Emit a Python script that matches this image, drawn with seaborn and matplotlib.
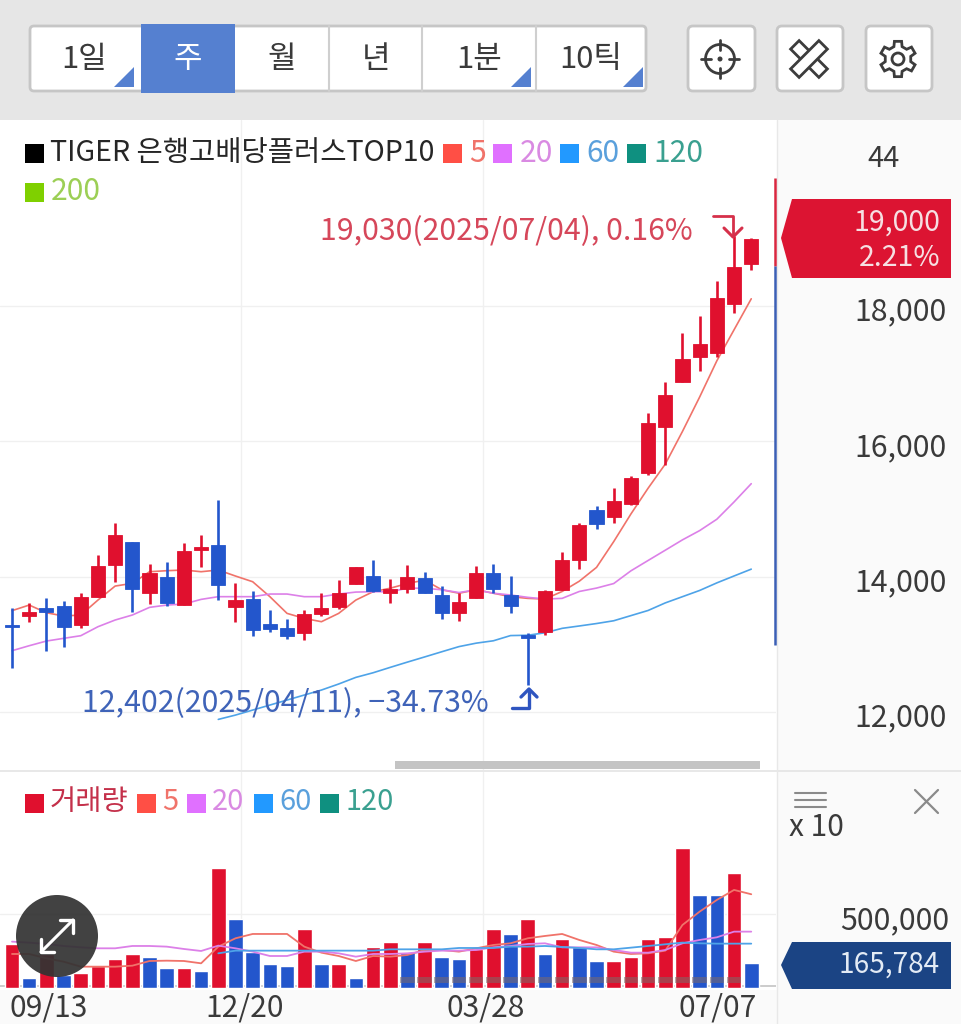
import numpy as np
import pandas as pd
import seaborn as sns
import matplotlib
matplotlib.use('Agg')
import matplotlib.pyplot as plt
from matplotlib.patches import Rectangle, Polygon, Circle, FancyBboxPatch
from matplotlib.transforms import ScaledTranslation

sns.set_style('white')
plt.rcParams['font.family'] = ['Noto Sans CJK KR', 'DejaVu Sans']

# 주봉 시세
body_top = [13285, 13473, 13542, 13567, 13695, 14158, 14611, 14518, 14059, 13995, 14385, 14439,
            14463, 13655, 13670, 13296, 13241, 13453, 13537, 13764, 14138, 14010, 13813, 14000,
            13985, 13725, 13629, 14061, 14061, 13725, 13145, 13782, 14240, 14764, 14988, 15120,
            15456, 16270, 16693, 17217, 17446, 18123, 18571, 18989]
body_bot = [13256, 13419, 13473, 13251, 13291, 13705, 14177, 13818, 13764, 13606, 13581, 14394,
            13877, 13547, 13212, 13227, 13128, 13172, 13443, 13557, 13892, 13788, 13764, 13817,
            13756, 13471, 13461, 13690, 13817, 13563, 13094, 13176, 13807, 14245, 14784, 14876,
            15069, 15532, 16220, 16871, 17248, 17304, 18032, 18622]
highs = [13532, 13606, 13680, 13645, 13754, 14320, 14788, 14518, 14182, 14222, 14503, 14616,
         15133, 13902, 13793, 13507, 13370, 13507, 13754, 13951, 14138, 14246, 13961, 14173,
         14072, 13868, 13756, 14153, 14184, 14011, 13170, 13807, 14367, 14800, 15049, 15308,
         15487, 16413, 16881, 17609, 17848, 18378, 19030, 19009]
lows = [12645, 13335, 12906, 12965, 13246, 13705, 13916, 13483, 13591, 13567, 13581, 14138,
        13655, 13335, 13128, 13182, 13074, 13064, 13424, 13517, 13892, 13778, 13616, 13756,
        13756, 13374, 13349, 13680, 13766, 13471, 12402, 13145, 13797, 14112, 14698, 14800,
        15054, 15507, 15650, 16871, 17039, 17243, 17904, 18530]
candle_up = [0, 1, 0, 0, 1, 1, 1, 0, 1, 0, 1, 1, 0, 1, 0, 0, 0, 1, 1, 1, 1, 0, 1, 1, 0, 0, 1, 1,
             0, 0, 0, 1, 1, 1, 0, 1, 1, 1, 1, 1, 1, 1, 1, 1]

ma5 = [13498, 13581, 13468, 13419, 13434, 13655, 13862, 13902, 14074, 14089, 14099, 14074,
       14099, 14010, 13926, 13705, 13458, 13384, 13335, 13458, 13655, 13778, 13830, 13900,
       13950, 13807, 13756, 13807, 13756, 13705, 13680, 13670, 13782, 13934, 14138, 14519,
       14927, 15308, 15665, 16148, 16657, 17192, 17650, 18108]
ma20 = [12906, 12980, 13049, 13089, 13128, 13261, 13360, 13434, 13547, 13581, 13596, 13665,
        13705, 13705, 13705, 13744, 13744, 13705, 13705, 13744, 13773, 13778, 13778, 13830,
        13830, 13807, 13766, 13807, 13756, 13730, 13695, 13670, 13680, 13782, 13832, 13899,
        14087, 14240, 14392, 14545, 14682, 14850, 15105, 15375]
ma60 = [11891, 11955, 12029, 12103, 12177, 12251, 12325, 12414, 12512, 12580, 12660, 12738,
        12814, 12891, 12967, 13018, 13053, 13130, 13135, 13171, 13237, 13272, 13308, 13349,
        13425, 13501, 13613, 13705, 13797, 13909, 14011, 14112]

price_ticks = [12000, 14000, 16000, 18000]
range_high, range_mid, range_low = 19894, 18593, 12990

# 거래량
volumes = [298000, 63600, 229600, 86400, 97700, 147700, 197700, 229600, 211400, 131800, 131800,
           113600, 818000, 466000, 245500, 163600, 147700, 397800, 163600, 163600, 63600, 279600,
           313700, 245500, 313700, 211400, 197700, 263700, 397800, 363700, 466000, 229600,
           329600, 279600, 179600, 179600, 211400, 329600, 347800, 952400, 631900, 631900,
           784200, 165784]
vol_up = [1, 0, 1, 0, 1, 1, 1, 1, 0, 0, 1, 0, 1, 0, 0, 0, 0, 1, 0, 1, 0, 1, 1, 0, 1, 0, 0, 1,
          1, 0, 1, 0, 1, 0, 0, 1, 1, 1, 1, 1, 0, 0, 1, 0]
vol_ma5 = [229600, 229600, 200000, 177300, 143200, 143200, 143200, 150000, 181800, 184100, 181800,
           166000, 279600, 336400, 365900, 365900, 365900, 279600, 238600, 215900, 181800, 215900,
           211400, 222700, 256800, 256800, 245500, 268200, 291000, 302300, 336400, 352300,
           365900, 325000, 290900, 245500, 229600, 234100, 252300, 427300, 518200, 597700,
           665900, 636400]
vol_ma20 = [313700, 306800, 297700, 284100, 275000, 268200, 268200, 284100, 284100, 279600,
            263700, 250000, 286400, 268200, 245500, 215900, 215900, 245500, 245500, 234100,
            211400, 229600, 229600, 234100, 245500, 252300, 252300, 256800, 275000, 284100,
            297700, 302300, 275000, 275000, 275000, 256800, 238600, 238600, 256800, 302300,
            325000, 343200, 381800, 381800]
vol_ma60 = [234100, 252300, 252300, 252300, 252300, 252300, 252300, 252300, 252300, 252300,
            261400, 261400, 261400, 261400, 270500, 270500, 270500, 279600, 279600, 284100,
            277300, 270500, 261400, 261400, 272700, 284100, 295500, 307000, 302300, 300000,
            300000, 300000]

date_labels = ['09/13', '12/20', '03/28', '07/07']
date_ticks = [2.15, 13.55, 27.57, 41.07]
grid_dates = [13.32, 27.4]

RED = '#e0102e'
BLUE = '#2356cc'
MA_COLORS = {'5': '#f0736a', '20': '#dc80e8', '60': '#4ea3e8'}
W, H = 961, 1024
fs = lambda px: px * 0.72


def box(left, top, right, bottom):
    return [left / W, 1 - bottom / H, (right - left) / W, (bottom - top) / H]


fig = plt.figure(figsize=(9.61, 10.24), dpi=100, facecolor='white')

# 바닥 레이어 (패널 배경)
back = fig.add_axes([0, 0, 1, 1], zorder=0)
back.set_xlim(0, W)
back.set_ylim(H, 0)
back.axis('off')
back.add_patch(Rectangle((0, 0), W, 120, color='#e6e6e6', lw=0))
back.add_patch(Rectangle((777, 120), W - 777, H - 120, color='#fafafa', lw=0))
back.add_patch(Rectangle((0, 990), W, 34, color='#fafafa', lw=0))
back.plot([0, W], [771, 771], color='#e4e4e4', lw=1.2)
back.plot([776.5, 776.5], [120, H], color='#e8e8e8', lw=1)

# 가격 차트
df = pd.DataFrame({'idx': range(44), 'top': body_top, 'bot': body_bot, 'high': highs, 'low': lows,
                   'up': candle_up, 'ma5': ma5, 'ma20': ma20})
df60 = pd.DataFrame({'idx': range(12, 44), 'ma60': ma60})

ax = fig.add_axes(box(0, 120, 776, 770), zorder=1, facecolor='none')
ax.set_xlim(-0.698, 44.44)
ax.set_ylim(11143, 20751)
for d in grid_dates:
    ax.axvline(d, color='#f0f0f0', lw=1, zorder=0)
ax.set_yticks(price_ticks)
ax.set_yticklabels([f'{p:,}' for p in price_ticks], fontsize=fs(30.3), color='#3a3a3a')
ax.yaxis.tick_right()
ax.tick_params(axis='y', length=0, pad=56.6)
ax.grid(axis='y', color='#f0f0f0', lw=1)
ax.set_axisbelow(True)
for lab in ax.get_yticklabels():
    lab.set_transform(lab.get_transform() + ScaledTranslation(0, -2.5 / 100, fig.dpi_scale_trans))
ax.set_xticks([])
sns.despine(ax=ax, left=True, bottom=True, right=True, top=True)

sns.lineplot(data=df, x='idx', y='ma5', color=MA_COLORS['5'], lw=1.2, ax=ax, zorder=2, errorbar=None)
sns.lineplot(data=df, x='idx', y='ma20', color=MA_COLORS['20'], lw=1.2, ax=ax, zorder=2, errorbar=None)
sns.lineplot(data=df60, x='idx', y='ma60', color=MA_COLORS['60'], lw=1.2, ax=ax, zorder=2, errorbar=None)
ax.set_xlabel('')
ax.set_ylabel('')

colors = [RED if u else BLUE for u in candle_up]
ax.vlines(df['idx'], df['low'], df['high'], colors=colors, lw=1.9, zorder=3)
ax.bar(df['idx'], df['top'] - df['bot'], bottom=df['bot'], width=0.82, color=colors, lw=0.6,
       edgecolor=colors, zorder=4)

# 기간 범위 막대
ax.vlines(44.36, range_mid, range_high, color='#d9263f', lw=1.8, clip_on=False, zorder=5)
ax.vlines(44.36, range_low, range_mid, color='#3b5fb5', lw=1.8, clip_on=False, zorder=5)

# 거래량 차트
vf = pd.DataFrame({'idx': range(44), 'vol': volumes,
                   'kind': ['up' if u else 'down' for u in vol_up],
                   'ma5': vol_ma5, 'ma20': vol_ma20})
vf60 = pd.DataFrame({'idx': range(12, 44), 'ma60': vol_ma60})

vx = fig.add_axes(box(0, 772, 776, 990), zorder=1, facecolor='none')
vx.axhline(13000, color='#c4c4c4', lw=1.2, zorder=0)
sns.barplot(data=vf, x='idx', y='vol', hue='kind', palette={'up': RED, 'down': BLUE}, dodge=False,
            width=0.85, saturation=1, legend=False, ax=vx, zorder=2)
vx.bar(range(23, 43), [41000] * 20, bottom=34000, width=0.85, color='#7d6a6a', alpha=0.55, lw=0, zorder=3)
sns.lineplot(x=vf['idx'], y=vf['ma5'], color=MA_COLORS['5'], lw=1.3, ax=vx, zorder=4, errorbar=None)
sns.lineplot(x=vf['idx'], y=vf['ma20'], color=MA_COLORS['20'], lw=1.3, ax=vx, zorder=4, errorbar=None)
sns.lineplot(x=vf60['idx'], y=vf60['ma60'], color=MA_COLORS['60'], lw=1.3, ax=vx, zorder=4, errorbar=None)
vx.set_xlim(-0.698, 44.44)
vx.set_ylim(-15700, 1469000)
for d in grid_dates:
    vx.axvline(d, color='#f0f0f0', lw=1, zorder=0)
vx.set_xlabel('')
vx.set_ylabel('')
vx.set_xticks(date_ticks)
vx.set_xticklabels(date_labels, fontsize=fs(30), color='#3a3a3a')
vx.tick_params(axis='x', length=0, pad=1.8)
vx.set_yticks([500000])
vx.set_yticklabels(['500,000'], fontsize=fs(30.3), color='#3a3a3a')
vx.yaxis.tick_right()
vx.tick_params(axis='y', length=0, pad=46)
vx.grid(axis='y', color='#f0f0f0', lw=1)
vx.set_axisbelow(True)
for lab in vx.get_yticklabels():
    lab.set_transform(lab.get_transform() + ScaledTranslation(0, -2.5 / 100, fig.dpi_scale_trans))
sns.despine(ax=vx, left=True, bottom=True, right=True, top=True)

# 화면 UI 레이어
ui = fig.add_axes([0, 0, 1, 1], zorder=3, facecolor='none')
ui.set_xlim(0, W)
ui.set_ylim(H, 0)
ui.axis('off')


def txt(x, y, s, size=29, color='#3a3a3a', ha='left', **kw):
    ui.text(x, y + 2, s, fontsize=fs(size), color=color, ha=ha, va='center', **kw)


def square(x, y, color, side=19):
    ui.add_patch(Rectangle((x, y - side / 2), side, side, color=color, lw=0))


# 상단 버튼
ui.add_patch(FancyBboxPatch((30, 26), 616, 65, boxstyle='round,pad=0,rounding_size=4',
                            fc='white', ec='#c6c6c6', lw=2))
for sep in [329, 422, 536]:
    ui.plot([sep, sep], [26, 91], color='#cfcfcf', lw=1.5)
ui.add_patch(Rectangle((141, 24), 94, 69, color='#5580d0', lw=0))
for x, s in [(84, '1일'), (282, '월'), (376, '년'), (479, '1분'), (591, '10틱')]:
    txt(x, 58, s, size=31, ha='center')
txt(188, 58, '주', size=31, color='white', ha='center')
for right in [134, 531, 643]:
    ui.add_patch(Polygon([(right - 20, 87), (right, 87), (right, 67)], color='#5580d0', lw=0))
for left, right in [(688, 755), (777, 843), (866, 932)]:
    ui.add_patch(FancyBboxPatch((left, 26), right - left, 65, boxstyle='round,pad=0,rounding_size=5',
                                fc='white', ec='#c6c6c6', lw=2))

# 아이콘
ICON = '#3c3c3c'
ui.add_patch(Circle((720, 59), 14.5, fc='none', ec=ICON, lw=2))
ui.add_patch(Circle((720, 59), 2.5, color=ICON, lw=0))
for x0, y0, x1, y1 in [(701, 59, 711, 59), (729, 59, 739, 59), (720, 40, 720, 50), (720, 68, 720, 78)]:
    ui.plot([x0, x1], [y0, y1], color=ICON, lw=2)
for angle in [45, -45]:
    t = np.radians(angle)
    corners = np.array([[-20, -6], [20, -6], [20, 6], [-20, 6]])
    rot = np.array([[np.cos(t), -np.sin(t)], [np.sin(t), np.cos(t)]])
    ui.add_patch(Polygon(corners @ rot.T + [809, 59], fc='white', ec=ICON, lw=2))
teeth = []
for k in range(6):
    a = np.radians(60 * k - 90)
    for off, r in [(-0.32, 13), (-0.2, 18), (0.2, 18), (0.32, 13)]:
        teeth.append((898 + r * np.cos(a + off), 59 + r * np.sin(a + off)))
ui.add_patch(Polygon(teeth, fc='none', ec=ICON, lw=2))
ui.add_patch(Circle((898, 59), 6, fc='none', ec=ICON, lw=2))

# 가격 범례
square(25, 153, 'black')
txt(50, 151, 'TIGER 은행고배당플러스TOP10', size=28.6, color='#262626')
for sq_x, tx, s, sq_c, tc in [(443, 469, '5', '#ff4f45', '#f0736a'), (493, 520, '20', '#e070ff', '#d98ae2'),
                              (560, 586, '60', '#2299ff', '#5aa0dc'), (627, 653, '120', '#0f9080', '#3aa090')]:
    square(sq_x, 153, sq_c)
    txt(tx, 151, s, size=30, color=tc)
square(25, 192, '#7fd000')
txt(51, 190, '200', size=30, color='#9ccf55')
txt(884, 157, '44', size=29, ha='center')

# 최고/최저 표시
txt(693, 230, '19,030(2025/07/04), 0.16%', size=30.3, color='#d6475a', ha='right')
txt(489, 702, '12,402(2025/04/11), −34.73%', size=30.3, color='#3f63b8', ha='right')
ui.plot([713, 733, 733], [216, 216, 236], color='#d6304a', lw=2)
ui.plot([724, 733, 742], [228, 237, 228], color='#d6304a', lw=2.2)
ui.plot([512, 529, 529], [708, 708, 691], color='#2f55c0', lw=2.4)
ui.plot([521, 529, 537], [697, 689, 697], color='#2f55c0', lw=2.4)

# 스크롤바
ui.add_patch(Rectangle((395, 761), 365, 8, color='#c4c4c4', lw=0))

# 우측 현재가 태그
ui.add_patch(Polygon([(781, 238), (792, 199), (951, 199), (951, 278), (792, 278)], color='#dc1432', lw=0))
txt(940, 221, '19,000', size=28.5, color='#f6dfe2', ha='right')
txt(940, 256, '2.21%', size=28.5, color='#f6dfe2', ha='right')
ui.add_patch(Polygon([(781, 965), (792, 942), (951, 942), (951, 989), (792, 989)], color='#1b4484', lw=0))
txt(940, 963, '165,784', size=28, color='#e3ebf5', ha='right')

# 거래량 범례
square(25, 803, RED)
txt(50, 800, '거래량', size=28.5, color='#c4304a')
for sq_x, tx, s, sq_c, tc in [(137, 162, '5', '#ff4f45', '#f0736a'), (187, 212, '20', '#e070ff', '#d98ae2'),
                              (254, 279, '60', '#2299ff', '#5aa0dc'), (320, 346, '120', '#0f9080', '#3aa090')]:
    square(sq_x, 803, sq_c)
    txt(tx, 800, s, size=29, color=tc)

# 보조지표 메뉴
for y in [793, 800, 807]:
    ui.plot([795, 826], [y, y], color='#8a8a8a', lw=1.5)
txt(789, 826, 'x 10', size=30)
ui.plot([915, 938], [790, 813], color='#8a8a8a', lw=1.6)
ui.plot([915, 938], [813, 790], color='#8a8a8a', lw=1.6)

# 확대 버튼
ui.add_patch(Circle((57, 936), 41, color='#333333', alpha=0.93, lw=0))
ui.plot([41, 73], [952, 920], color='white', lw=2.2)
ui.plot([41, 41, 54], [939, 952, 952], color='white', lw=2.4)
ui.plot([60, 73, 73], [920, 920, 933], color='white', lw=2.4)

fig.savefig('out.png', dpi=100)
